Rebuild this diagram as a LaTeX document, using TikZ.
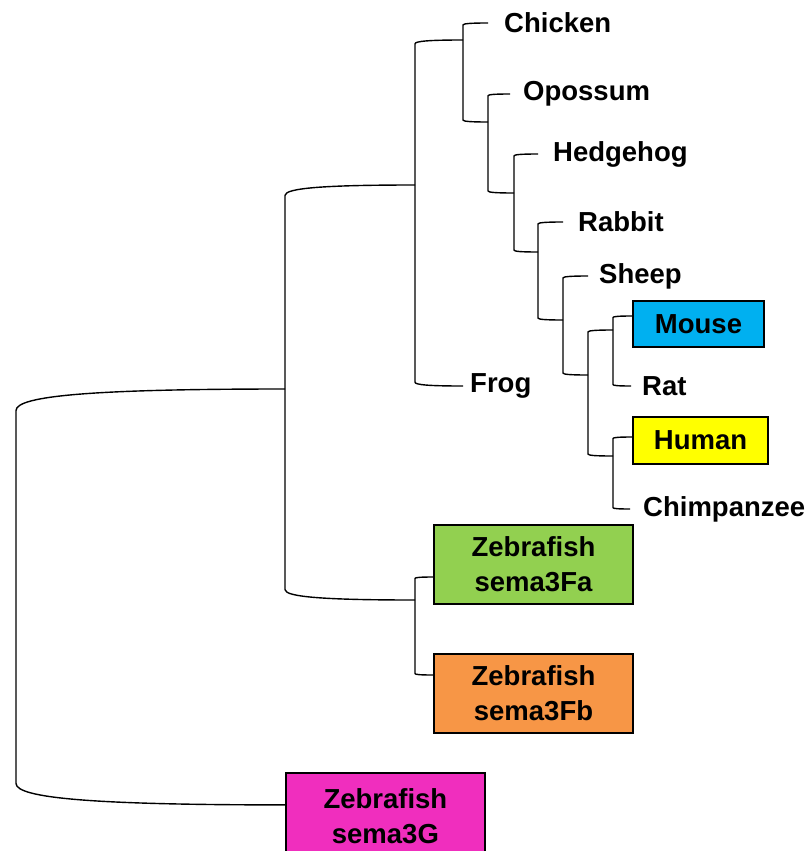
\documentclass[tikz,border=0pt]{standalone}
\usepackage{fontspec}
\setmainfont{Liberation Sans}
\usetikzlibrary{calc}

\definecolor{mousefill}{HTML}{00B0F0}
\definecolor{humanfill}{HTML}{FFFF00}
\definecolor{fafill}{HTML}{92D050}
\definecolor{fbfill}{HTML}{F79646}
\definecolor{gfill}{HTML}{F02EBE}

\tikzset{
  branch/.style={line width=1.4pt, to path={
      let \p1=(\tikztostart), \p2=(\tikztotarget),
          \n1={0.08*(\x2-\x1)*sign(\y1-\y2)} in
      -- (\x1,\y2+\n1) .. controls (\x1,\y2+0.3*\n1) and (0.7*\x1+0.3*\x2,\y2) .. (\x2,\y2)}},
  leaf/.style={anchor=west, inner xsep=13pt, inner ysep=0pt},
  taxon/.style={draw, line width=1.8pt, align=center, inner sep=0pt},
}

\begin{document}
\begin{tikzpicture}[x=1pt, y=-1pt, font=\fontsize{27.5}{35}\selectfont\bfseries]
  \useasboundingbox (0,0) rectangle (808,851);
  %
  % inner nodes of the tree
  \coordinate (n1) at (16,596);
  \coordinate (n2) at (285,389);
  \coordinate (n3) at (415,185);
  \coordinate (n4) at (463,40);
  \coordinate (n5) at (488,122);
  \coordinate (n6) at (514,193);
  \coordinate (n7) at (538,252);
  \coordinate (n8) at (563,320);
  \coordinate (n9) at (415,600);
  \coordinate (n10) at (588,375);
  \coordinate (n11) at (613,330);
  \coordinate (n12) at (613,456);
  %
  % species
  \node[leaf, inner xsep=16pt] (chicken) at (488,23) {Chicken};
  \node[leaf] (opossum) at (510,94) {Opossum};
  \node[leaf, inner xsep=15pt] (hedgehog) at (538,154) {Hedgehog};
  \node[leaf, inner xsep=15pt] (rabbit) at (563,222) {Rabbit};
  \node[leaf, inner xsep=11pt] (sheep) at (588,276) {Sheep};
  \node[leaf, inner xsep=11pt] (rat) at (631,386) {Rat};
  \node[leaf, inner xsep=7pt] (frog) at (463,386) {Frog};
  \node[leaf] (chimp) at (630,509) {Chimpanzee};
  \node[taxon, fill=mousefill, minimum width=131pt, minimum height=46pt] (mouse) at (698.5,324) {Mouse};
  \node[taxon, fill=humanfill, minimum width=135pt, minimum height=47pt] (human) at (700.5,440.5) {Human};
  \node[taxon, fill=fafill, minimum width=199pt, minimum height=79pt] (fa) at (533.5,564.5) {Zebrafish\\sema3Fa};
  \node[taxon, fill=fbfill, minimum width=199pt, minimum height=79pt] (fb) at (533.5,693.5) {Zebrafish\\sema3Fb};
  \node[taxon, fill=gfill, minimum width=199pt, minimum height=86pt, anchor=north west] (sg) at (285,772) {Zebrafish\\sema3G};
  %
  \coordinate (mouse-in) at ([yshift=8pt]mouse.west);
  \coordinate (human-in) at ([yshift=3.5pt]human.west);
  \coordinate (fa-in) at ([yshift=-12.5pt]fa.west);
  \coordinate (fb-in) at ([yshift=18.5pt]fb.west);
  \coordinate (sg-in) at ([yshift=11pt]sg.west);
  %
  \draw[branch] (n1) to (n2) (n1) to (sg-in);
  \draw[branch] (n2) to (n3) (n2) to (n9);
  \draw[branch] (n3) to (n4) (n3) to (frog.west);
  \draw[branch] (n4) to (chicken.west) (n4) to (n5);
  \draw[branch] (n5) to (opossum.west) (n5) to (n6);
  \draw[branch] (n6) to (hedgehog.west) (n6) to (n7);
  \draw[branch] (n7) to (rabbit.west) (n7) to (n8);
  \draw[branch] (n8) to (sheep.west) (n8) to (n10);
  \draw[branch] (n10) to (n11) (n10) to (n12);
  \draw[branch] (n11) to (mouse-in) (n11) to (rat.west);
  \draw[branch] (n12) to (human-in) (n12) to (chimp.west);
  \draw[branch] (n9) to (fa-in) (n9) to (fb-in);
  %
\end{tikzpicture}
\end{document}
